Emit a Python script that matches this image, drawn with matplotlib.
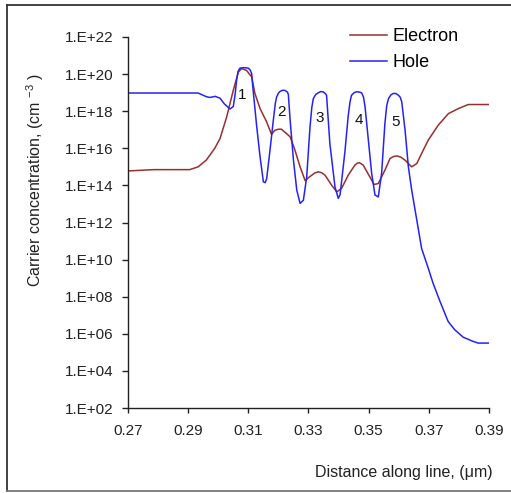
import numpy as np
import matplotlib
matplotlib.use("Agg")
import matplotlib.pyplot as plt
from matplotlib.lines import Line2D
from matplotlib.ticker import FixedLocator, FuncFormatter, NullLocator

plt.rcParams['font.family'] = ['Liberation Sans', 'DejaVu Sans']
plt.rcParams['mathtext.fontset'] = 'custom'
plt.rcParams['mathtext.rm'] = 'Liberation Sans'
plt.rcParams['mathtext.it'] = 'Liberation Sans'
plt.rcParams['mathtext.bf'] = 'Liberation Sans'

# ---- data (log10 of carrier concentration, cm^-3) ----
hole_x = [0.2700, 0.2933, 0.2961, 0.2972, 0.2990, 0.3006, 0.3020, 0.3039, 0.3050,
          0.3056, 0.3061, 0.3066, 0.3072, 0.3086, 0.3100, 0.3106, 0.3111, 0.3117,
          0.3128, 0.3139, 0.3150, 0.3156, 0.3161,
          0.3172, 0.3183, 0.3190, 0.3194, 0.3200, 0.3205, 0.3214, 0.3222, 0.3230,
          0.3233, 0.3239, 0.3250, 0.3261,
          0.3272, 0.3283, 0.3294, 0.3305, 0.3311, 0.3316, 0.3324, 0.3333, 0.3341,
          0.3349, 0.3356, 0.3360, 0.3371,
          0.3388, 0.3399, 0.3405, 0.3421, 0.3432, 0.3438, 0.3443, 0.3452, 0.3460,
          0.3470, 0.3477, 0.3483, 0.3488,
          0.3499, 0.3510, 0.3521, 0.3532, 0.3543, 0.3554, 0.3560, 0.3566, 0.3574,
          0.3582, 0.3591, 0.3599, 0.3605,
          0.3610, 0.3621, 0.3632, 0.3643, 0.3660, 0.3676, 0.3698, 0.3714, 0.3737,
          0.3764, 0.3786, 0.3814, 0.3847, 0.3864, 0.3900]
hole_log = [18.98, 18.98, 18.78, 18.74, 18.80, 18.70, 18.40, 18.12, 18.25,
            18.90, 19.67, 20.15, 20.32, 20.35, 20.32, 20.22, 20.03, 18.95,
            17.15, 15.54, 14.19, 14.15, 14.37,
            15.90, 17.51, 18.45, 18.77, 18.97, 19.06, 19.13, 19.12, 19.03,
            18.90, 17.51, 15.36, 13.75,
            13.03, 13.20, 14.46, 17.15, 18.20, 18.68, 18.90, 19.00, 19.06,
            19.04, 18.95, 18.86, 16.26,
            13.92, 13.30, 13.50, 15.80, 17.75, 18.50, 18.86, 19.00, 19.05,
            19.03, 18.98, 18.75, 18.23,
            16.44, 14.64, 13.48, 13.38, 14.64, 17.34, 18.30, 18.68, 18.88,
            18.96, 18.95, 18.86, 18.75,
            18.50, 16.98, 15.00, 13.75, 12.13, 10.60, 9.54, 8.73, 7.75,
            6.67, 6.22, 5.82, 5.59, 5.50, 5.50]

electron_x = [0.2700, 0.2786, 0.2905, 0.2933, 0.2960, 0.2988, 0.3006, 0.3028, 0.3050,
              0.3067, 0.3078, 0.3094, 0.3111, 0.3122, 0.3139, 0.3161, 0.3177, 0.3188,
              0.3200, 0.3210, 0.3227, 0.3239, 0.3255, 0.3272, 0.3289, 0.3300, 0.3311,
              0.3322, 0.3333, 0.3344, 0.3355,
              0.3377, 0.3394, 0.3410, 0.3432, 0.3454, 0.3462, 0.3470, 0.3482, 0.3499,
              0.3518, 0.3532, 0.3554, 0.3571, 0.3583, 0.3595, 0.3607, 0.3621, 0.3643,
              0.3660, 0.3676, 0.3698,
              0.3731, 0.3765, 0.3798, 0.3831, 0.3900]
electron_log = [14.78, 14.85, 14.85, 15.00, 15.36, 15.99, 16.53, 17.69, 19.13,
                20.12, 20.30, 20.20, 19.85, 18.95, 18.14, 17.42, 16.75, 16.97,
                17.03, 17.03, 16.79, 16.62, 15.90, 15.00, 14.25, 14.42, 14.55,
                14.68, 14.73, 14.68, 14.55,
                14.01, 13.65, 13.84, 14.55, 15.09, 15.20, 15.22, 15.09, 14.60,
                14.05, 14.10, 14.82, 15.45, 15.56, 15.59, 15.52, 15.36, 15.00,
                15.18, 15.72, 16.44,
                17.24, 17.87, 18.14, 18.36, 18.36]

peak_labels = ['1', '2', '3', '4', '5']
peak_x = [0.3078, 0.3211, 0.3336, 0.3466, 0.3588]
peak_log = [18.86, 17.96, 17.66, 17.51, 17.42]

x_ticks = [0.27, 0.29, 0.31, 0.33, 0.35, 0.37, 0.39]
y_tick_exps = [2, 4, 6, 8, 10, 12, 14, 16, 18, 20, 22]

# ---- figure ----
W, H = 511, 493
fig = plt.figure(figsize=(W / 100, H / 100), dpi=100)
fig.patch.set_facecolor('white')

L, R, T, B = 128, 489, 37, 408
ax = fig.add_axes([L / W, 1 - B / H, (R - L) / W, (B - T) / H])

ax.plot(electron_x, 10.0 ** np.array(electron_log), color='#9a2e2e', lw=1.1, label='Electron')
ax.plot(hole_x, 10.0 ** np.array(hole_log), color='#2323f5', lw=1.1, label='Hole')

ax.set_yscale('log')
ax.set_xlim(0.27, 0.39)
ax.set_ylim(1e2, 1e22)

ax.xaxis.set_major_locator(FixedLocator(x_ticks))
ax.xaxis.set_major_formatter(FuncFormatter(lambda v, p: f"{v:.2f}"))
ax.yaxis.set_major_locator(FixedLocator([10.0 ** e for e in y_tick_exps]))
ax.yaxis.set_minor_locator(NullLocator())
ax.yaxis.set_major_formatter(FuncFormatter(lambda v, p: f"1.E+{int(round(np.log10(v))):02d}"))

for s in ['top', 'right']:
    ax.spines[s].set_visible(False)
for s in ['left', 'bottom']:
    ax.spines[s].set_linewidth(1.0)
    ax.spines[s].set_color('#222222')

ax.tick_params(axis='y', direction='out', length=4.5, width=1.0, pad=6, labelsize=11, colors='#222222')
ax.tick_params(axis='x', direction='out', length=3.8, width=1.0, pad=7.5, labelsize=11, colors='#222222')

for lab, px, pl in zip(peak_labels, peak_x, peak_log):
    ax.text(px, 10.0 ** pl, lab, fontsize=11, ha='center', va='center', color='#111111')

leg = ax.legend(loc='upper left', bbox_to_anchor=(350 / W, 1 - 28 / H),
                bbox_transform=fig.transFigure, frameon=False, fontsize=13,
                handlelength=2.05, handletextpad=0.3, labelspacing=0.5,
                borderpad=0, borderaxespad=0)

fig.text(35 / W, 1 - 180 / H, r'Carrier concentration, (cm $^{-3}$ )', rotation=90,
         ha='center', va='center', fontsize=11.5, color='#222222')
fig.text(493 / W, 1 - 473 / H, 'Distance along line, (\u03bcm)', ha='right', va='center',
         fontsize=11.5, color='#222222')

# outer frame
fig.add_artist(Line2D([7 / W, 7 / W], [1 - 491 / H, 1 - 5 / H], transform=fig.transFigure,
                      color='#333333', lw=1.3))
fig.add_artist(Line2D([7 / W, 1.0], [1 - 5 / H, 1 - 5 / H], transform=fig.transFigure,
                      color='#333333', lw=1.3))
fig.add_artist(Line2D([7 / W, 1.0], [1 - 491 / H, 1 - 491 / H], transform=fig.transFigure,
                      color='#777777', lw=1.3))

fig.savefig('out.png', dpi=100, facecolor='white')
